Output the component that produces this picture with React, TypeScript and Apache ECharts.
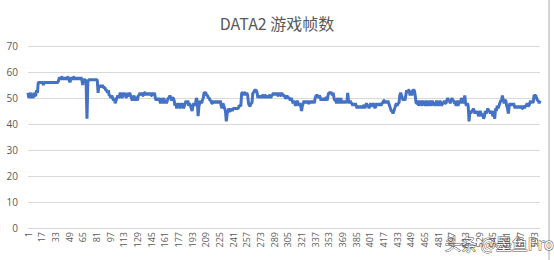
import React, { useEffect, useRef } from "react";
import * as echarts from "echarts";

const chartTitle = "DATA2 游戏帧数";
const watermarkText = "头条 @墨鱼Pro";

const yTicks = { min: 0, max: 70, step: 10 };
const labelEvery = 16;

const fpsValues: number[] = [
  52,50,51,52,50,51,50,52,51,51,53,52,56,56,56,56,56,56,55,56,
  56,56,56,56,56,56,56,56,56,56,56,56,56,56,56,56,57,58,57,58,
  58,57,58,57,58,57,58,58,57,56,57,58,57,58,58,57,58,57,58,57,
  58,57,58,57,55,57,57,57,56,42,56,57,57,57,57,57,57,57,57,57,
  57,57,52,55,54,55,54,55,54,54,54,53,53,52,53,51,51,50,51,50,
  49,50,48,49,50,51,50,51,52,51,50,51,52,51,51,50,52,51,51,52,
  51,50,49,50,51,49,50,50,49,51,51,52,51,52,51,51,52,52,51,52,
  51,52,51,52,51,51,52,51,52,50,49,50,49,50,49,48,50,48,49,50,
  48,49,48,49,50,50,51,50,49,50,50,49,47,48,46,47,48,47,46,48,
  47,48,46,47,48,49,48,49,47,48,47,46,45,47,48,47,48,50,49,43,
  47,48,49,48,49,50,52,52,52,51,51,50,50,49,49,48,48,49,48,49,
  48,49,48,49,48,49,47,46,48,47,46,45,41,44,45,46,45,45,46,45,
  46,46,46,46,46,46,46,47,47,47,52,52,51,52,52,51,52,51,48,47,
  47,48,48,52,52,53,53,53,52,50,51,50,51,50,51,51,50,51,51,50,
  51,50,51,51,50,51,51,52,51,52,51,52,51,51,52,51,51,52,51,51,
  51,50,50,51,50,50,50,49,50,49,48,49,48,47,48,49,48,47,48,47,
  45,47,48,49,48,49,48,49,48,48,49,48,49,48,49,48,50,51,51,51,
  50,51,50,49,50,49,50,49,50,50,49,51,52,52,52,52,51,52,50,49,
  49,48,50,49,48,49,50,48,49,48,49,48,49,48,52,49,48,49,48,48,
  47,48,47,48,47,46,47,46,47,46,47,46,47,47,46,47,48,47,47,46,
  47,48,47,47,48,47,46,47,48,47,48,47,48,47,48,48,49,49,48,49,
  48,49,48,47,46,45,45,44,45,46,47,48,47,48,48,51,52,51,50,49,
  50,49,51,53,52,53,53,51,52,51,53,53,53,51,48,48,49,47,48,49,
  48,47,49,48,48,47,49,48,47,48,49,48,47,49,48,48,47,48,49,48,
  47,48,49,48,47,48,48,49,48,48,49,50,49,49,48,49,50,49,49,48,
  48,47,49,47,48,49,48,50,49,48,49,51,48,47,48,47,41,45,44,45,
  45,46,45,44,45,44,45,43,44,45,44,43,44,42,43,45,44,45,46,45,
  45,44,45,44,43,45,42,46,45,47,46,47,48,49,49,51,49,48,49,49,
  47,46,44,47,48,47,48,47,48,47,46,47,46,47,46,47,46,47,46,46,
  47,46,47,47,48,47,47,48,49,48,49,48,51,51,51,50,49,49,48,49,
];

const categories: string[] = fpsValues.map((_, i) => String(i + 1));

export default function App() {
  const ref = useRef<HTMLDivElement>(null);

  useEffect(() => {
    if (!ref.current) return;
    const chart = echarts.init(ref.current, undefined, { renderer: "svg" });
    chart.setOption({
      animation: false,
      backgroundColor: "#ffffff",
      title: {
        text: chartTitle,
        left: "center",
        top: 10,
        textStyle: {
          fontSize: 16,
          fontWeight: "normal",
          color: "#595959",
          fontFamily: "'Noto Sans CJK SC', 'Open Sans', sans-serif",
        },
      },
      grid: { left: 28, right: 14, top: 46, bottom: 32 },
      xAxis: {
        type: "category",
        data: categories,
        boundaryGap: false,
        axisLine: { show: true, lineStyle: { color: "#d9d9d9", width: 1 } },
        axisTick: { show: false },
        splitLine: { show: false },
        axisLabel: {
          interval: labelEvery - 1,
          rotate: 90,
          fontSize: 9,
          color: "#595959",
          margin: 4,
          fontFamily: "'Open Sans', sans-serif",
        },
      },
      yAxis: {
        type: "value",
        min: yTicks.min,
        max: yTicks.max,
        interval: yTicks.step,
        axisLine: { show: false },
        axisTick: { show: false },
        splitLine: { lineStyle: { color: "#d9d9d9", width: 1 } },
        axisLabel: {
          fontSize: 10,
          color: "#595959",
          margin: 10,
          fontFamily: "'Open Sans', sans-serif",
        },
      },
      series: [
        {
          type: "line",
          data: fpsValues,
          showSymbol: false,
          symbol: "none",
          lineStyle: { color: "#4472C4", width: 3 },
          itemStyle: { color: "#4472C4" },
        },
      ],
      graphic: [
        {
          type: "rect",
          shape: { x: 548, y: 0, width: 2, height: 260 },
          style: { fill: "#d4d4d4" },
          silent: true,
        },
        {
          type: "text",
          x: 445,
          y: 235,
          style: {
            text: watermarkText,
            fontSize: 16,
            fill: "#ffffff",
            stroke: "#555555",
            lineWidth: 1,
            fontFamily: "'Noto Sans CJK SC', sans-serif",
          },
          silent: true,
        },
      ],
    });
    return () => chart.dispose();
  }, []);

  return (
    <div
      ref={ref}
      style={{ position: "absolute", left: 0, top: 0, width: 554, height: 260 }}
    />
  );
}
